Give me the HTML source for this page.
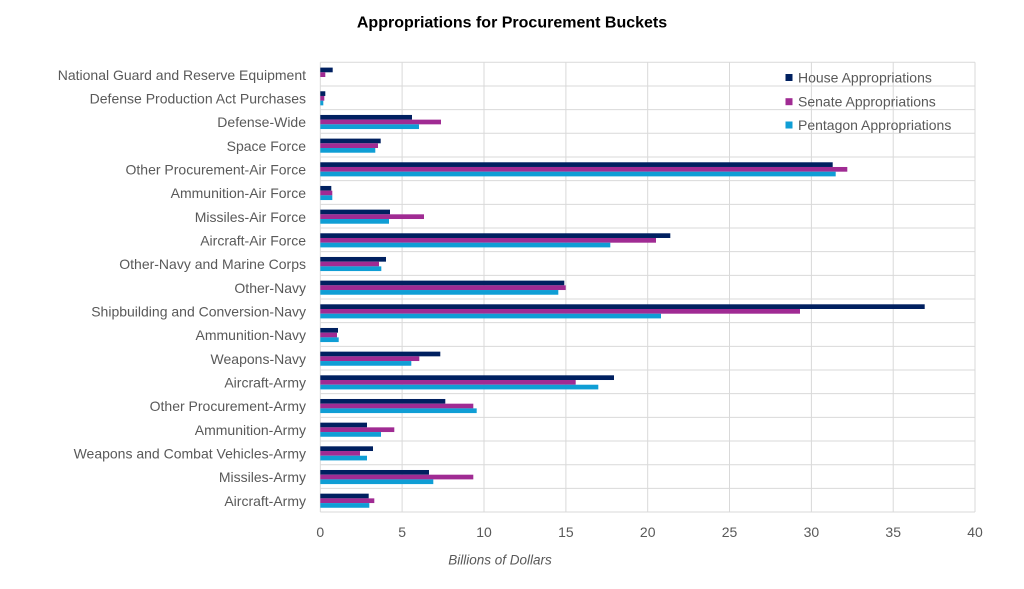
<!DOCTYPE html>
<html><head><meta charset="utf-8"><style>
html,body{margin:0;padding:0;background:#fff;}
svg{display:block;}
text{font-family:"Liberation Sans",Arial,sans-serif;}
</style></head><body>
<svg width="1024" height="589" viewBox="0 0 1024 589" xmlns="http://www.w3.org/2000/svg">
<rect width="1024" height="589" fill="#fff"/>
<text x="512" y="23" text-anchor="middle" dominant-baseline="central" font-size="16" font-weight="bold" fill="#000">Appropriations for Procurement Buckets</text>
<g stroke="#d9d9d9" stroke-width="1">
<line x1="320.3" y1="62.3" x2="320.3" y2="512"/>
<line x1="402.1" y1="62.3" x2="402.1" y2="512"/>
<line x1="484" y1="62.3" x2="484" y2="512"/>
<line x1="565.9" y1="62.3" x2="565.9" y2="512"/>
<line x1="647.7" y1="62.3" x2="647.7" y2="512"/>
<line x1="729.5" y1="62.3" x2="729.5" y2="512"/>
<line x1="811.4" y1="62.3" x2="811.4" y2="512"/>
<line x1="893.2" y1="62.3" x2="893.2" y2="512"/>
<line x1="975" y1="62.3" x2="975" y2="512"/>
<line x1="320.3" y1="62.3" x2="975" y2="62.3"/>
<line x1="320.3" y1="85.97" x2="975" y2="85.97"/>
<line x1="320.3" y1="109.64" x2="975" y2="109.64"/>
<line x1="320.3" y1="133.31" x2="975" y2="133.31"/>
<line x1="320.3" y1="156.98" x2="975" y2="156.98"/>
<line x1="320.3" y1="180.65" x2="975" y2="180.65"/>
<line x1="320.3" y1="204.32" x2="975" y2="204.32"/>
<line x1="320.3" y1="227.99" x2="975" y2="227.99"/>
<line x1="320.3" y1="251.66" x2="975" y2="251.66"/>
<line x1="320.3" y1="275.33" x2="975" y2="275.33"/>
<line x1="320.3" y1="299" x2="975" y2="299"/>
<line x1="320.3" y1="322.67" x2="975" y2="322.67"/>
<line x1="320.3" y1="346.34" x2="975" y2="346.34"/>
<line x1="320.3" y1="370.01" x2="975" y2="370.01"/>
<line x1="320.3" y1="393.68" x2="975" y2="393.68"/>
<line x1="320.3" y1="417.35" x2="975" y2="417.35"/>
<line x1="320.3" y1="441.02" x2="975" y2="441.02"/>
<line x1="320.3" y1="464.69" x2="975" y2="464.69"/>
<line x1="320.3" y1="488.36" x2="975" y2="488.36"/>
<line x1="320.3" y1="512" x2="975" y2="512"/>
</g>
<g>
<!-- 1 -->
<rect x="320.3" y="67.6" width="12.4" height="4.7" fill="#002060"/>
<rect x="320.3" y="72.3" width="5.0" height="4.7" fill="#A02B93"/>
<!-- 2 -->
<rect x="320.3" y="91.27" width="5.0" height="4.7" fill="#002060"/>
<rect x="320.3" y="95.97" width="4.0" height="4.7" fill="#A02B93"/>
<rect x="320.3" y="100.67" width="3.0" height="4.7" fill="#0F9ED5"/>
<!-- 3 -->
<rect x="320.3" y="114.94" width="91.7" height="4.7" fill="#002060"/>
<rect x="320.3" y="119.64" width="120.7" height="4.7" fill="#A02B93"/>
<rect x="320.3" y="124.34" width="98.7" height="4.7" fill="#0F9ED5"/>
<!-- 4 -->
<rect x="320.3" y="138.61" width="60.4" height="4.7" fill="#002060"/>
<rect x="320.3" y="143.31" width="57.7" height="4.7" fill="#A02B93"/>
<rect x="320.3" y="148.01" width="55.0" height="4.7" fill="#0F9ED5"/>
<!-- 5 -->
<rect x="320.3" y="162.28" width="512.4" height="4.7" fill="#002060"/>
<rect x="320.3" y="166.98" width="527.0" height="4.7" fill="#A02B93"/>
<rect x="320.3" y="171.68" width="515.4" height="4.7" fill="#0F9ED5"/>
<!-- 6 -->
<rect x="320.3" y="185.95" width="11.0" height="4.7" fill="#002060"/>
<rect x="320.3" y="190.65" width="12.0" height="4.7" fill="#A02B93"/>
<rect x="320.3" y="195.35" width="12.0" height="4.7" fill="#0F9ED5"/>
<!-- 7 -->
<rect x="320.3" y="209.62" width="69.7" height="4.7" fill="#002060"/>
<rect x="320.3" y="214.32" width="103.7" height="4.7" fill="#A02B93"/>
<rect x="320.3" y="219.02" width="68.7" height="4.7" fill="#0F9ED5"/>
<!-- 8 -->
<rect x="320.3" y="233.29" width="350.0" height="4.7" fill="#002060"/>
<rect x="320.3" y="237.99" width="335.7" height="4.7" fill="#A02B93"/>
<rect x="320.3" y="242.69" width="290.0" height="4.7" fill="#0F9ED5"/>
<!-- 9 -->
<rect x="320.3" y="256.96" width="65.7" height="4.7" fill="#002060"/>
<rect x="320.3" y="261.66" width="58.7" height="4.7" fill="#A02B93"/>
<rect x="320.3" y="266.36" width="61.0" height="4.7" fill="#0F9ED5"/>
<!-- 10 -->
<rect x="320.3" y="280.63" width="244.0" height="4.7" fill="#002060"/>
<rect x="320.3" y="285.33" width="245.4" height="4.7" fill="#A02B93"/>
<rect x="320.3" y="290.03" width="238.0" height="4.7" fill="#0F9ED5"/>
<!-- 11 -->
<rect x="320.3" y="304.3" width="604.4" height="4.7" fill="#002060"/>
<rect x="320.3" y="309.0" width="479.7" height="4.7" fill="#A02B93"/>
<rect x="320.3" y="313.7" width="340.7" height="4.7" fill="#0F9ED5"/>
<!-- 12 -->
<rect x="320.3" y="327.97" width="17.7" height="4.7" fill="#002060"/>
<rect x="320.3" y="332.67" width="16.7" height="4.7" fill="#A02B93"/>
<rect x="320.3" y="337.37" width="18.4" height="4.7" fill="#0F9ED5"/>
<!-- 13 -->
<rect x="320.3" y="351.64" width="120.0" height="4.7" fill="#002060"/>
<rect x="320.3" y="356.34" width="99.0" height="4.7" fill="#A02B93"/>
<rect x="320.3" y="361.04" width="91.0" height="4.7" fill="#0F9ED5"/>
<!-- 14 -->
<rect x="320.3" y="375.31" width="293.7" height="4.7" fill="#002060"/>
<rect x="320.3" y="380.01" width="255.4" height="4.7" fill="#A02B93"/>
<rect x="320.3" y="384.71" width="278.0" height="4.7" fill="#0F9ED5"/>
<!-- 15 -->
<rect x="320.3" y="398.98" width="125.0" height="4.7" fill="#002060"/>
<rect x="320.3" y="403.68" width="153.0" height="4.7" fill="#A02B93"/>
<rect x="320.3" y="408.38" width="156.4" height="4.7" fill="#0F9ED5"/>
<!-- 16 -->
<rect x="320.3" y="422.65" width="46.7" height="4.7" fill="#002060"/>
<rect x="320.3" y="427.35" width="74.0" height="4.7" fill="#A02B93"/>
<rect x="320.3" y="432.05" width="60.7" height="4.7" fill="#0F9ED5"/>
<!-- 17 -->
<rect x="320.3" y="446.32" width="52.7" height="4.7" fill="#002060"/>
<rect x="320.3" y="451.02" width="39.7" height="4.7" fill="#A02B93"/>
<rect x="320.3" y="455.72" width="46.7" height="4.7" fill="#0F9ED5"/>
<!-- 18 -->
<rect x="320.3" y="469.99" width="108.7" height="4.7" fill="#002060"/>
<rect x="320.3" y="474.69" width="153.0" height="4.7" fill="#A02B93"/>
<rect x="320.3" y="479.39" width="113.0" height="4.7" fill="#0F9ED5"/>
<!-- 19 -->
<rect x="320.3" y="493.66" width="48.4" height="4.7" fill="#002060"/>
<rect x="320.3" y="498.36" width="54.0" height="4.7" fill="#A02B93"/>
<rect x="320.3" y="503.06" width="49.0" height="4.7" fill="#0F9ED5"/>
</g>
<g font-size="14" fill="#595959" text-anchor="end" dominant-baseline="central">
<text x="306" y="74.8">National Guard and Reserve Equipment</text>
<text x="306" y="98.5">Defense Production Act Purchases</text>
<text x="306" y="122.1">Defense-Wide</text>
<text x="306" y="145.8">Space Force </text>
<text x="306" y="169.5">Other Procurement-Air Force</text>
<text x="306" y="193.1">Ammunition-Air Force</text>
<text x="306" y="216.8">Missiles-Air Force</text>
<text x="306" y="240.5">Aircraft-Air Force</text>
<text x="306" y="264.2">Other-Navy and Marine Corps</text>
<text x="306" y="287.8">Other-Navy</text>
<text x="306" y="311.5">Shipbuilding and Conversion-Navy</text>
<text x="306" y="335.2">Ammunition-Navy</text>
<text x="306" y="358.8">Weapons-Navy</text>
<text x="306" y="382.5">Aircraft-Army</text>
<text x="306" y="406.2">Other Procurement-Army</text>
<text x="306" y="429.9">Ammunition-Army</text>
<text x="306" y="453.5">Weapons and Combat Vehicles-Army</text>
<text x="306" y="477.2">Missiles-Army</text>
<text x="306" y="500.9">Aircraft-Army</text>
</g>
<g font-size="14" fill="#595959" text-anchor="middle" dominant-baseline="central">
<text x="320.3" y="532">0</text>
<text x="402.1" y="532">5</text>
<text x="484" y="532">10</text>
<text x="565.9" y="532">15</text>
<text x="647.7" y="532">20</text>
<text x="729.5" y="532">25</text>
<text x="811.4" y="532">30</text>
<text x="893.2" y="532">35</text>
<text x="975" y="532">40</text>
</g>
<text x="500" y="560" text-anchor="middle" dominant-baseline="central" font-size="13.5" font-style="italic" fill="#595959">Billions of Dollars</text>
<g font-size="14" fill="#595959" dominant-baseline="central">
<rect x="785.5" y="74" width="7" height="7" fill="#002060"/>
<text x="798" y="77.5">House Appropriations</text>
<rect x="785.5" y="98.2" width="7" height="7" fill="#A02B93"/>
<text x="798" y="101.7">Senate Appropriations</text>
<rect x="785.5" y="121.5" width="7" height="7" fill="#0F9ED5"/>
<text x="798" y="125">Pentagon Appropriations</text>
</g>
</svg>
</body></html>
